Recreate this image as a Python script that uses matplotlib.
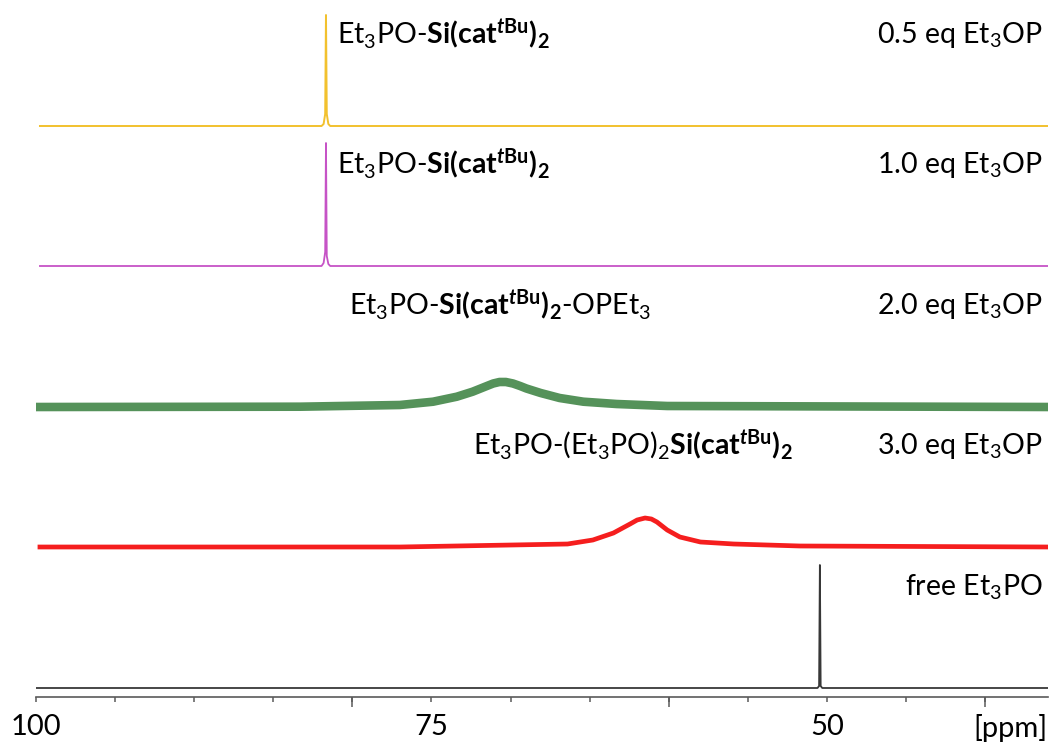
import matplotlib.pyplot as plt

plt.rcParams['font.family'] = ['Lato', 'DejaVu Sans']
plt.rcParams['mathtext.fontset'] = 'custom'
plt.rcParams['mathtext.rm'] = 'Lato'
plt.rcParams['mathtext.it'] = 'Lato:italic'
plt.rcParams['mathtext.bf'] = 'Lato:bold'
plt.rcParams['mathtext.bfit'] = 'Lato:italic:bold'

# spectra (ppm, intensity above baseline)
ppm_05 = [99.75, 81.95, 81.82, 81.72, 81.67, 81.62, 81.52, 81.40, 36.03]
int_05 = [0, 0, 2, 12, 111, 12, 2, 0, 0]

ppm_10 = [99.75, 81.95, 81.82, 81.72, 81.67, 81.62, 81.52, 81.40, 36.03]
int_10 = [0, 0, 3, 14, 123, 10, 2, 0, 0]

ppm_20 = [99.75, 83.3, 77.0, 74.9, 73.4, 72.4, 71.5, 71.1, 70.7, 70.3, 69.85,
          69.4, 69.0, 68.1, 66.9, 65.4, 63.3, 60.1, 36.03]
int_20 = [0, 0.3, 2, 5.3, 10.3, 15.3, 21, 23.5, 25, 25, 23.5, 21, 18.5, 14,
          9, 5.3, 3, 1, 0]

ppm_30 = [99.75, 77.0, 66.4, 64.8, 63.5, 62.45, 62.0, 61.5, 61.1, 60.75,
          60.1, 59.3, 58.0, 55.9, 51.7, 36.03]
int_30 = [0, 0, 3, 7, 14, 23, 27, 29, 28, 25, 17, 10, 5, 3, 1, 0]

ppm_free = [100.0, 50.60, 50.50, 50.45, 50.40, 50.30, 36.03]
int_free = [0, 0, 2, 123, 2, 0, 0]

spectra = [(ppm_05, int_05), (ppm_10, int_10), (ppm_20, int_20),
           (ppm_30, int_30), (ppm_free, int_free)]
colors = ['#F2C12E', '#C653C6', '#55925A', '#F51E1E', '#383838']
widths = [1.4, 1.3, 6.2, 3.4, 1.3]
offsets = [571, 431, 290, 150, 9]

tbu = r'\mathbf{Si(cat}^{\mathbfit{t}\mathbf{Bu}}\mathbf{)}_\mathbf{2}'
compounds = [r'Et$_3$PO-$' + tbu + '$',
             r'Et$_3$PO-$' + tbu + '$',
             r'Et$_3$PO-$' + tbu + r'$-OPEt$_3$',
             r'Et$_3$PO-(Et$_3$PO)$_2' + tbu + '$',
             '']
compound_x = [80.95, 80.95, 80.2, 72.4, 0]
labels = [r'0.5 eq Et$_3$OP', r'1.0 eq Et$_3$OP', r'2.0 eq Et$_3$OP',
          r'3.0 eq Et$_3$OP', r'free Et$_3$PO']
label_y = [654, 524, 383, 243, 102]

fig = plt.figure(figsize=(10.52, 7.42), dpi=100)
ax = fig.add_axes([36 / 1052, 45 / 742, 1012 / 1052, 697 / 742])

for (x, y), c, lw, off in zip(spectra, colors, widths, offsets):
    ax.plot(x, [v + off for v in y], color=c, lw=lw)

for txt, cx, lab, ly in zip(compounds, compound_x, labels, label_y):
    if txt:
        ax.text(cx, ly, txt, fontsize=20.5, ha='left', va='baseline')
    ax.text(0.995, ly, lab, transform=ax.get_yaxis_transform(), fontsize=20.5,
            ha='right', va='baseline')

ax.set_xlim(100, 36.03)
ax.set_ylim(0, 697)
for s in ['left', 'right', 'top']:
    ax.spines[s].set_visible(False)
ax.spines['bottom'].set_color('#5a5a5a')
ax.spines['bottom'].set_linewidth(1.2)
ax.set_yticks([])

ax.set_xticks([100, 75, 50])
ax.set_xticks([95, 90, 85, 80, 70, 65, 60, 55, 45, 40], minor=True)
ax.tick_params(axis='x', which='both', length=3.8, width=1.1, color='#5a5a5a',
               labelsize=21, pad=8.5)

# long ticks every 20 ppm
sec = ax.secondary_xaxis('bottom')
sec.set_xticks([80, 60, 40])
sec.tick_params(length=7.5, width=1.1, color='#5a5a5a', labelbottom=False)
sec.spines['bottom'].set_visible(False)

ax.annotate('[ppm]', xy=(1.0, 0), xycoords='axes fraction', xytext=(0, -12.3),
            textcoords='offset points', ha='right', va='top', fontsize=21)

fig.savefig('out.png', dpi=100)
